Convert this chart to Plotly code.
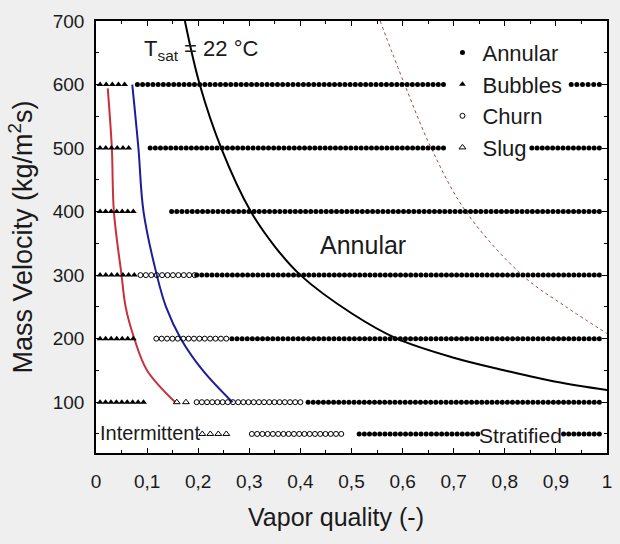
import numpy as np
import plotly.graph_objects as go

# ---- data ----
# Flow-pattern observation rows: mass velocity G, first/last vapor quality, number of points
annular_G = [600, 600, 500, 500, 400, 300, 200, 100, 50, 50]
annular_x0 = [0.081, 0.930, 0.106, 0.853, 0.148, 0.197, 0.266, 0.415, 0.515, 0.915]
annular_x1 = [0.680, 0.985, 0.680, 0.985, 0.985, 0.985, 0.985, 0.985, 0.747, 0.985]
annular_n = [60, 6, 58, 14, 84, 80, 73, 58, 24, 8]

bubbles_G = [600, 500, 400, 300, 200, 100]
bubbles_x0 = [0.008, 0.008, 0.008, 0.008, 0.008, 0.008]
bubbles_x1 = [0.056, 0.064, 0.073, 0.075, 0.073, 0.093]
bubbles_n = [5, 6, 7, 7, 7, 9]

churn_G = [300, 200, 100, 50]
churn_x0 = [0.087, 0.118, 0.197, 0.305]
churn_x1 = [0.193, 0.255, 0.400, 0.480]
churn_n = [11, 14, 21, 18]

slug_G = [100, 50]
slug_x0 = [0.158, 0.208]
slug_x1 = [0.176, 0.255]
slug_n = [2, 4]

# Transition curves
black_x = [0.174, 0.203, 0.245, 0.303, 0.350, 0.400, 0.500, 0.589, 0.700, 0.800, 0.900, 1.000]
black_G = [700, 600, 500, 400, 345, 300, 240, 200, 170, 150, 132, 119]

reddash_x = [0.556, 0.604, 0.656, 0.724, 0.834, 0.920, 1.000]
reddash_G = [700, 600, 500, 400, 300, 250, 208]

red_x = [0.023, 0.031, 0.035, 0.050, 0.058, 0.075, 0.100, 0.155]
red_G = [594, 500, 400, 300, 250, 200, 150, 100]

blue_x = [0.071, 0.083, 0.093, 0.119, 0.137, 0.166, 0.209, 0.267]
blue_G = [600, 500, 400, 300, 250, 200, 150, 100]

x_ticks = [0, 0.1, 0.2, 0.3, 0.4, 0.5, 0.6, 0.7, 0.8, 0.9, 1.0]
y_ticks = [100, 200, 300, 400, 500, 600, 700]


def expand(G, x0, x1, n):
    xs, ys = [], []
    for g, a, b, k in zip(G, x0, x1, n):
        pts = np.linspace(a, b, k)
        xs.extend(pts.tolist())
        ys.extend([g] * k)
    return xs, ys


FONT = "Liberation Sans, Arial, sans-serif"
fig = go.Figure()

# curves
fig.add_trace(go.Scatter(x=black_x, y=black_G, mode="lines", line=dict(color="black", width=2, shape="spline"),
                         showlegend=False, hoverinfo="skip"))
fig.add_trace(go.Scatter(x=reddash_x, y=reddash_G, mode="lines",
                         line=dict(color="#a8424a", width=1, dash="dot", shape="spline"),
                         showlegend=False, hoverinfo="skip"))
fig.add_trace(go.Scatter(x=red_x, y=red_G, mode="lines", line=dict(color="#c8303a", width=2, shape="spline"),
                         showlegend=False, hoverinfo="skip"))
fig.add_trace(go.Scatter(x=blue_x, y=blue_G, mode="lines", line=dict(color="#1c1c9c", width=2, shape="spline"),
                         showlegend=False, hoverinfo="skip"))

# flow-pattern points
ax, ay = expand(annular_G, annular_x0, annular_x1, annular_n)
fig.add_trace(go.Scatter(x=ax, y=ay, mode="markers", name="Annular",
                         marker=dict(symbol="circle", size=5, color="black")))
bx, by = expand(bubbles_G, bubbles_x0, bubbles_x1, bubbles_n)
fig.add_trace(go.Scatter(x=bx, y=by, mode="markers", name="Bubbles",
                         marker=dict(symbol="triangle-up", size=6, color="black")))
cx, cy = expand(churn_G, churn_x0, churn_x1, churn_n)
fig.add_trace(go.Scatter(x=cx, y=cy, mode="markers", name="Churn",
                         marker=dict(symbol="circle-open", size=5, color="black", line=dict(width=1))))
sx, sy = expand(slug_G, slug_x0, slug_x1, slug_n)
fig.add_trace(go.Scatter(x=sx, y=sy, mode="markers", name="Slug",
                         marker=dict(symbol="triangle-up-open", size=6, color="black", line=dict(width=1))))

axis_common = dict(showline=True, linecolor="black", linewidth=1.5, mirror="ticks",
                   ticks="inside", ticklen=5, tickcolor="black", showgrid=False, zeroline=False,
                   tickfont=dict(family=FONT, size=19, color="#1a1a1a"))

fig.update_xaxes(range=[0, 1], tickvals=x_ticks, tickformat=".1~f",
                 minor=dict(dtick=0.05, ticks="inside", ticklen=3, tickcolor="black"),
                 ticklabelstandoff=10, **axis_common)
fig.update_yaxes(range=[20, 700], tickvals=y_ticks,
                 minor=dict(tick0=0, dtick=50, ticks="inside", ticklen=3, tickcolor="black"),
                 ticklabelstandoff=6,
                 title=dict(text="Mass Velocity (kg/m<sup>2</sup>s)", font=dict(family=FONT, size=27, color="#1a1a1a"),
                            standoff=12),
                 **axis_common)

fig.add_annotation(xref="paper", yref="paper", x=0.469, y=-0.148, text="Vapor quality (-)", showarrow=False,
                   font=dict(family=FONT, size=25, color="#1a1a1a"), xanchor="center", yanchor="middle")
fig.add_annotation(x=0.19, y=655, text="T<sub>sat</sub> = 22 °C", showarrow=False,
                   font=dict(family=FONT, size=22, color="#1a1a1a"), xanchor="left", yanchor="middle",
                   xshift=-51)
fig.add_annotation(x=0.523, y=347, text="Annular", showarrow=False,
                   font=dict(family=FONT, size=25, color="#1a1a1a"))
fig.add_annotation(x=0.105, y=51, text="Intermittent", showarrow=False,
                   font=dict(family=FONT, size=20, color="#1a1a1a"))
fig.add_annotation(x=0.83, y=48, text="Stratified", showarrow=False,
                   font=dict(family=FONT, size=21, color="#1a1a1a"))

fig.update_layout(
    width=620, height=544,
    margin=dict(l=96, r=8, t=21, b=91),
    paper_bgcolor="#efefef", plot_bgcolor="white",
    separators=", ",
    legend=dict(x=0.678, y=0.975, xanchor="left", yanchor="top", bgcolor="rgba(0,0,0,0)",
                font=dict(family=FONT, size=22, color="#1a1a1a"), itemwidth=30, tracegroupgap=0),
    showlegend=True,
)

fig.write_html("out.html")
